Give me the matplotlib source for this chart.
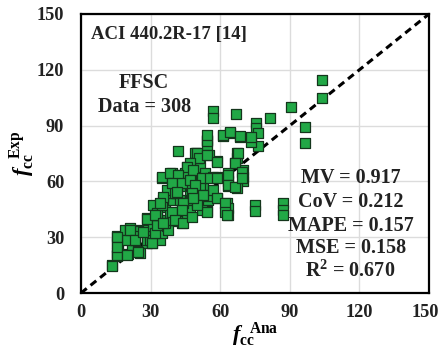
import matplotlib
matplotlib.use("Agg")
import matplotlib.pyplot as plt

f_ana = [
    103.7, 103.7, 90.4, 96.6, 96.6, 81.5, 66.8, 57.0, 57.0, 75.3, 75.3, 76.4, 76.4, 73.1, 73.1,
    64.2, 61.3, 68.5, 54.2, 54.2, 42.0, 67.4, 67.4, 58.8, 51.3, 55.0, 49.5, 66.4, 69.7, 69.7,
    69.7, 63.5, 63.5, 63.5, 67.1, 58.8, 58.8, 62.8, 63.5, 63.5, 75.0, 75.0, 86.9, 86.9, 86.9,
    54.2, 52.0, 54.9, 54.9,
    13.5, 15.4, 15.4, 15.4, 15.4, 16.1, 20.1, 21.8, 21.1, 23.3, 24.7, 25.4, 26.9, 28.3, 28.3,
    23.3, 25.4, 19.0, 21.1, 22.6, 19.7, 28.3, 29.0, 31.2, 31.2, 31.2, 32.6, 33.3, 32.6, 33.3,
    30.4, 29.7, 34.1, 34.8, 35.5, 36.2, 35.1, 36.9, 36.9, 38.4, 39.1, 39.1, 39.8, 39.8, 40.5,
    41.2, 41.2, 42.0, 42.7, 43.4, 44.1, 44.1, 44.8, 45.5, 45.5, 46.2, 46.9, 47.6, 47.6, 48.4,
    49.1, 49.9, 50.6, 51.3, 51.8, 51.8, 52.7, 53.4, 54.2, 49.1, 50.5, 45.5, 44.8, 38.4, 36.9,
    43.4, 41.2, 37.6, 45.5, 46.9, 49.9, 56.8, 56.8, 51.3,
    13.2, 15.4, 15.4, 15.4, 19.7, 21.1, 23.3, 24.7, 26.9, 28.3, 30.5, 31.9, 32.6, 32.6, 36.2,
    39.1, 34.8, 35.5, 40.5,
    54.2, 54.2, 61.3, 64.2, 68.5, 49.9, 51.0, 54.2, 58.5, 67.5, 66.4, 69.3, 47.0, 45.5, 48.4,
    52.0, 55.6, 58.5, 63.5, 63.5, 66.4, 69.3, 34.8, 38.4, 41.9, 39.1, 43.4, 47.0, 49.1, 41.2,
    47.7, 52.7, 58.5, 62.1, 54.2, 62.1, 62.8, 34.1, 39.1, 44.1, 43.4, 31.9, 35.5, 40.5, 44.1,
    47.7, 49.9, 48.4,
]
f_exp = [
    114.6, 105.1, 100.2, 89.0, 80.9, 94.0, 96.1, 98.1, 94.0, 91.3, 88.6, 85.9, 78.8, 81.4, 84.1,
    85.9, 84.5, 84.1, 82.3, 79.3, 76.6, 75.2, 72.5, 70.7, 73.4, 74.3, 75.2, 69.8, 66.2, 62.6,
    60.0, 64.4, 60.0, 57.3, 56.4, 62.1, 51.0, 48.3, 45.6, 42.1, 47.4, 43.9, 48.3, 44.7, 42.1,
    43.9, 44.7, 50.1, 53.7,
    14.9, 19.7, 21.5, 26.8, 30.4, 25.1, 21.1, 26.0, 32.2, 28.6, 22.4, 34.0, 33.1, 26.8, 28.6,
    33.1, 21.5, 34.0, 34.9, 30.4, 28.6, 40.3, 34.0, 32.2, 35.8, 47.4, 43.0, 39.4, 32.2, 35.8,
    26.8, 28.6, 28.6, 32.2, 50.1, 46.5, 61.8, 39.4, 35.8, 43.0, 64.4, 59.1, 50.1, 39.4, 43.0,
    53.7, 54.6, 63.5, 50.1, 59.1, 48.3, 43.0, 41.2, 46.5, 57.3, 66.2, 53.7, 57.3, 50.1, 68.8,
    64.4, 59.7, 55.5, 68.0, 61.8, 53.7, 58.2, 64.4, 51.9, 75.2, 72.5, 68.0, 64.4, 53.7, 55.5,
    37.6, 38.5, 34.0, 43.0, 44.7, 48.3, 62.6, 55.5, 58.2,
    14.5, 30.3, 20.4, 24.9, 20.4, 33.9, 28.5, 22.2, 33.0, 39.6, 26.7, 32.1, 36.6, 41.9, 37.5,
    39.2, 47.3, 51.8, 53.6,
    81.9, 84.9, 84.9, 86.7, 84.4, 75.1, 72.4, 74.2, 70.6, 75.4, 69.7, 65.2, 69.7, 67.9, 66.1,
    61.7, 61.7, 61.7, 63.4, 58.1, 57.2, 61.7, 62.5, 64.4, 63.4, 59.0, 59.0, 60.8, 58.1, 54.5,
    53.6, 52.7, 50.9, 48.2, 43.7, 43.7, 41.9, 48.2, 43.7, 48.2, 44.6, 41.9, 37.5, 39.2, 37.5,
    41.0, 47.3, 50.9,
]

ticks = [0, 30, 60, 90, 120, 150]
title_text = "ACI 440.2R-17 [14]"
group_text = ["FFSC", "Data = 308"]
stats_text = ["MV = 0.917", "CoV = 0.212", "MAPE = 0.157", "MSE = 0.158", r"R$^{\mathbf{2}}$ = 0.670"]

plt.rcParams['font.family'] = ['Liberation Serif', 'DejaVu Serif']
plt.rcParams['font.weight'] = 'bold'
plt.rcParams['mathtext.fontset'] = 'custom'
plt.rcParams['mathtext.rm'] = 'Liberation Serif:bold'
plt.rcParams['mathtext.bf'] = 'Liberation Serif:bold'
plt.rcParams['mathtext.it'] = 'Liberation Serif:italic:bold'

fig = plt.figure(figsize=(4.41, 3.49), dpi=100)
ax = fig.add_axes([81/441, 1-293/349, (429-81)/441, (293-14)/349])

ax.set_xlim(0, 150)
ax.set_ylim(0, 150)
ax.set_xticks(ticks)
ax.set_yticks(ticks)
# last x tick label drawn separately, nudged left so it stays inside the figure
ax.set_xticklabels([str(t) for t in ticks[:-1]] + [''], fontsize=13.2, fontweight='bold')
ax.set_yticklabels([str(t) for t in ticks], fontsize=13.2, fontweight='bold')
ax.annotate(str(ticks[-1]), xy=(ticks[-1], 0), xycoords='data', xytext=(-3, -8),
            textcoords='offset points', ha='center', va='top', fontsize=13.2,
            fontweight='bold', color='#222222', annotation_clip=False)
ax.tick_params(length=0, pad=8, colors='#222222')
ax.tick_params(axis='y', pad=12)
ax.grid(True, color='#dcdcdc', lw=1.0)
ax.set_axisbelow(True)
for s in ax.spines.values():
    s.set_linewidth(1.6)
    s.set_color('black')

ax.plot([0, 150], [0, 150], color='black', lw=2.2, dashes=(2.4, 1.6), zorder=2)

ax.scatter(f_ana, f_exp, marker='s', s=50, facecolor='#21a846', edgecolor='#14361c',
           linewidth=0.9, zorder=3)

ax.text(4.3, 139, title_text, fontsize=13.5, fontweight='bold', ha='left', va='center', color='#222222')
ax.text(27.2, 112.7, group_text[0], fontsize=14.5, fontweight='bold', ha='center', va='center', color='#222222')
ax.text(27.2, 99.8, group_text[1], fontsize=14.5, fontweight='bold', ha='center', va='center', color='#222222')
for txt, yy in zip(stats_text, [61.7, 49.1, 36.2, 24.0, 11.5]):
    ax.text(116.2, yy, txt, fontsize=14.5, fontweight='bold', ha='center', va='center', color='#222222')

ax.set_xlabel(r'$f_{\mathrm{cc}}^{\ \ \mathrm{Ana}}$', fontsize=16, labelpad=0)
ax.set_ylabel(r'$f_{\mathrm{cc}}^{\ \ \mathrm{Exp}}$', fontsize=16, labelpad=0)

fig.savefig('out.png', dpi=100)
